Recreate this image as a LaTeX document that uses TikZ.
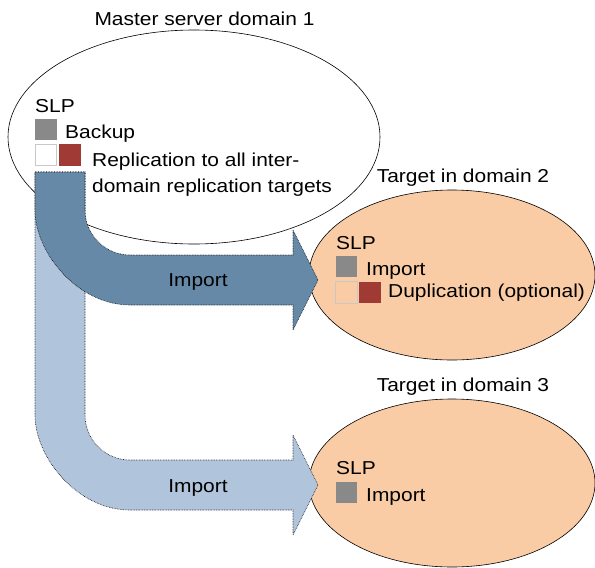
\documentclass[tikz,border=0pt]{standalone}
\usepackage{fontspec}
\setmainfont{Liberation Sans}[FakeStretch=1.12]
\usepackage{tikz}
\usetikzlibrary{shapes.geometric,positioning}
\definecolor{SLPBlue}{RGB}{103,137,168}
\definecolor{SLPLight}{RGB}{176,196,220}
\definecolor{SLPPeach}{RGB}{249,204,166}
\definecolor{SLPGray}{RGB}{137,137,137}
\definecolor{SLPRed}{RGB}{160,58,53}
\definecolor{SLPEdge}{RGB}{200,200,200}
\tikzset{
  slpdomain/.style={draw, ellipse, inner sep=0pt, line width=0.6pt},
  txt/.style={anchor=base west, inner sep=0pt, font=\fontsize{18.7}{26}\selectfont},
  swatch/.style={minimum size=21.5pt, inner sep=0pt},
  fatarrow/.style={draw=black, densely dotted, line width=0.6pt}
}

\begin{document}
\begin{tikzpicture}[x=1pt,y=-1pt]
  \useasboundingbox (0,0) rectangle (595,568);
  % domains
  \node[slpdomain, fill=white, minimum width=372pt, minimum height=214pt] (master) at (194,137) {};
  \node[slpdomain, fill=SLPPeach, minimum width=286pt, minimum height=170pt] (dtwo) at (452,275) {};
  \node[slpdomain, fill=SLPPeach, minimum width=286pt, minimum height=168pt] (dthree) at (452,483) {};
  % import arrows, light one first
  \foreach \col/\cy in {SLPLight/415, SLPBlue/210} {
    \draw[fatarrow, fill=\col] (35,172) -- (85,172) -- (85,\cy)
      .. controls (85,\cy+24.9) and (105.1,\cy+45) .. (130,\cy+45)
      -- (293,\cy+45) -- (293,\cy+20) -- (318,\cy+70) -- (293,\cy+120) -- (293,\cy+95)
      -- (130,\cy+95) .. controls (77.5,\cy+95) and (35,\cy+42.5) .. (35,\cy) -- cycle;
  }
  \node[txt, anchor=base] (imptwo) at (198,286) {Import};
  \node[txt, anchor=base] (impthree) at (198,492) {Import};
  % master server
  \node[txt, anchor=base] (mtitle) at (204.5,25) {Master server domain 1};
  \node[txt] (mslp) at (35,112.7) {SLP};
  \node[swatch, fill=SLPGray] (mgray) at (46,129.5) {};
  \node[txt] (mbackup) at (65,138) {Backup};
  \node[swatch, fill=white, draw=SLPEdge, line width=1pt] (mwhite) at (46,155) {};
  \node[swatch, fill=SLPRed] (mred) at (70,155) {};
  \node[txt, align=left] (mrepl) at (92,192.7) {Replication to all inter-\\domain replication targets};
  % domain 2
  \node[txt, anchor=base] (ttwo) at (463,182) {Target in domain 2};
  \node[txt] (slptwo) at (336,249) {SLP};
  \node[swatch, fill=SLPGray] (graytwo) at (346.5,266.5) {};
  \node[txt] (importtwo) at (366,275) {Import};
  \node[swatch, fill=SLPPeach, draw=SLPEdge, line width=1pt] (peachtwo) at (346.5,292.5) {};
  \node[swatch, fill=SLPRed] (redtwo) at (370,292.5) {};
  \node[txt] (duptwo) at (388,297) {Duplication (optional)};
  % domain 3
  \node[txt, anchor=base] (tthree) at (463,391) {Target in domain 3};
  \node[txt] (slpthree) at (336,474) {SLP};
  \node[swatch, fill=SLPGray] (graythree) at (346.5,492.5) {};
  \node[txt] (importthree) at (366,501) {Import};
\end{tikzpicture}
\end{document}
